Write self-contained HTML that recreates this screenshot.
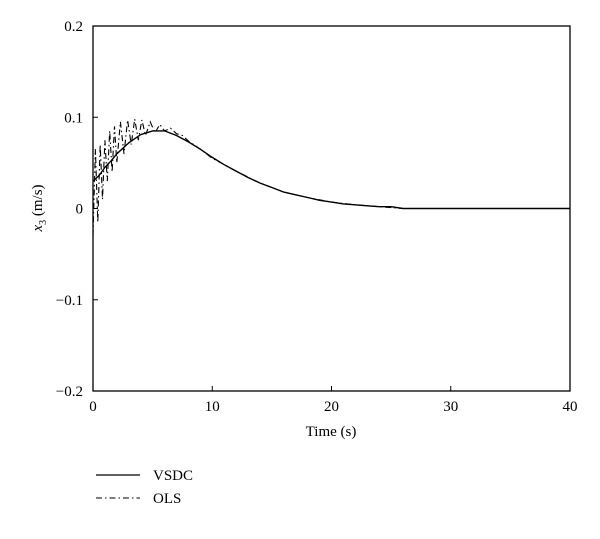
<!DOCTYPE html>
<html><head><meta charset="utf-8"><style>
body{margin:0;background:#fff;width:600px;height:534px;overflow:hidden;font-family:"Liberation Serif",serif;}
</style></head><body>
<svg id="chart" width="600" height="534" xmlns="http://www.w3.org/2000/svg" font-family="Liberation Serif, serif" font-size="15">
<g id="axes"></g>
<g id="series"></g>
<text x="331" y="436" text-anchor="middle">Time (s)</text>
<text transform="translate(42,208) rotate(-90)" text-anchor="middle"><tspan font-style="italic">x</tspan><tspan font-size="10" dy="4">3</tspan><tspan dy="-4"> (m/s)</tspan></text>
<g>
<line x1="96" y1="475" x2="140" y2="475" stroke="#000" stroke-width="1.3"/>
<text x="153" y="480">VSDC</text>
<line x1="96" y1="498" x2="140" y2="498" stroke="#000" stroke-width="1.1" stroke-dasharray="6,3,1.5,3"/>
<text x="153" y="503">OLS</text>
</g>
</svg>
<script>
const xTicks=[0,10,20,30,40];
const yTicks=[-0.2,-0.1,0,0.1,0.2];
const yTickLabels=["−0.2","−0.1","0","0.1","0.2"];
const vsdcT=[0,0.5,1,1.5,2,3,4,5,6,7,8,9,10,11,12,13,14,15,16,17,18,19,20,21,22,23,24,25,26,30,40];
const vsdcV=[0.03,0.036,0.045,0.052,0.06,0.072,0.081,0.085,0.085,0.08,0.073,0.065,0.056,0.048,0.041,0.034,0.028,0.023,0.018,0.015,0.012,0.009,0.007,0.005,0.004,0.003,0.002,0.002,0,0,0];
const olsT=[0,0.2,0.4,0.6,0.8,1,1.2,1.4,1.6,1.8,2,2.3,2.6,2.9,3.2,3.5,3.8,4.1,4.4,4.8,5.2,5.6,6,6.5,7,7.5,8,9,10,12,14,16,18,20,22,24,26,30,40];
const olsV=[-0.03,0.065,-0.015,0.07,0.01,0.075,0.03,0.085,0.04,0.09,0.05,0.095,0.06,0.097,0.07,0.098,0.075,0.097,0.08,0.095,0.083,0.092,0.085,0.088,0.082,0.08,0.074,0.065,0.055,0.041,0.028,0.018,0.012,0.007,0.004,0.002,0,0,0];
const L=93,R=570,T=26,B=391;
const xs=t=>L+(t-0)/40*(R-L);
const ys=v=>B-(v+0.2)/0.4*(B-T);
const NS="http://www.w3.org/2000/svg";
const ax=document.getElementById('axes');
function mk(tag,attrs,parent){const e=document.createElementNS(NS,tag);for(const k in attrs)e.setAttribute(k,attrs[k]);parent.appendChild(e);return e;}
const frame=mk('rect',{x:L,y:T,width:R-L,height:B-T,fill:'none',stroke:'#000','stroke-width':1.3},ax);


xTicks.forEach(t=>{
 const tk=mk('line',{x1:xs(t),x2:xs(t),y1:B,y2:B-5,stroke:'#000'},ax);
 
 
 const tx=mk('text',{x:xs(t),y:B+20,'text-anchor':'middle'},ax);
 tx.textContent=t;
 
 
});
yTicks.forEach((v,i)=>{
 const tk=mk('line',{x1:L,x2:L+5,y1:ys(v),y2:ys(v),stroke:'#000'},ax);
 
 
 const tx=mk('text',{x:L-10,y:ys(v)+5,'text-anchor':'end'},ax);
 tx.textContent=yTickLabels[i];
 
 
});
const sg=document.getElementById('series');
function pts(T_,V_){return T_.map((t,i)=>xs(t).toFixed(1)+','+ys(V_[i]).toFixed(1)).join(' ');}
const ols=mk('polyline',{points:pts(olsT,olsV),fill:'none',stroke:'#000','stroke-width':1.1,'stroke-dasharray':'6,3,1.5,3'},sg);


const vs=mk('polyline',{points:pts(vsdcT,vsdcV),fill:'none',stroke:'#000','stroke-width':1.4},sg);


</script>
</body></html>
